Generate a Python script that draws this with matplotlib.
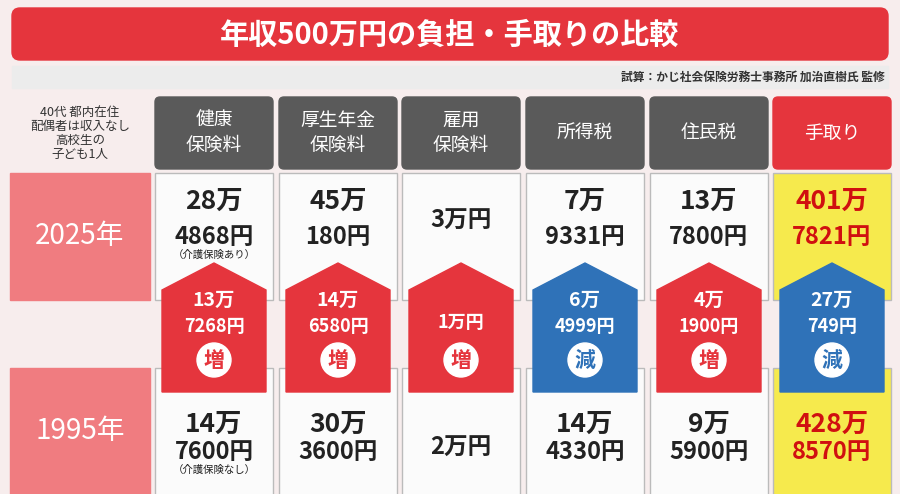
import matplotlib.pyplot as plt
from matplotlib.patches import FancyBboxPatch, Rectangle, Polygon, Circle

plt.rcParams['font.family'] = 'Noto Sans CJK JP'

# データ
columns = ['健康\n保険料', '厚生年金\n保険料', '雇用\n保険料', '所得税', '住民税', '手取り']
man_2025 = [28, 45, 3, 7, 13, 401]
yen_2025 = [4868, 180, None, 9331, 7800, 7821]
man_1995 = [14, 30, 2, 14, 9, 428]
yen_1995 = [7600, 3600, None, 4330, 5900, 8570]
diff_man = [13, 14, 1, 6, 4, 27]
diff_yen = [7268, 6580, None, 4999, 1900, 749]
diff_sign = ['増', '増', '増', '減', '増', '減']
note_2025 = '（介護保険あり）'
note_1995 = '（介護保険なし）'
years = ['2025年', '1995年']

RED = '#e5353d'
BLUE = '#2f72b8'
GRAY = '#5a5a5a'
YEL = '#f6ea4d'
PINK = '#f07c80'

fig = plt.figure(figsize=(9, 4.94), dpi=100)
ax = fig.add_axes([0, 0, 1, 1])
ax.set_xlim(0, 900)
ax.set_ylim(494, 0)
ax.axis('off')
ax.add_patch(Rectangle((0, 0), 900, 494, color='#f7eded'))

# タイトル
ax.add_patch(FancyBboxPatch((12, 8), 876, 52, boxstyle='round,pad=0,rounding_size=8', color=RED))
ax.text(450, 35, '年収500万円の負担・手取りの比較', color='white', fontsize=21, fontweight='bold',
        ha='center', va='center')
ax.add_patch(Rectangle((12, 66), 876, 22, color='#ececec'))
ax.text(885, 77, '試算：かじ社会保険労務士事務所 加治直樹氏 監修', fontsize=8.5, fontweight='bold',
        ha='right', va='center', color='#333')

ax.text(80, 133, '40代 都内在住\n配偶者は収入なし\n高校生の\n子ども1人', fontsize=9, ha='center',
        va='center', color='#333', linespacing=1.1)

xs = [155, 279, 402, 526, 650, 773]
w = 118
for i, c in enumerate(columns):
    col = RED if i == 5 else GRAY
    ax.add_patch(FancyBboxPatch((xs[i], 97), w, 72, boxstyle='round,pad=0,rounding_size=5', color=col))
    ax.text(xs[i] + w / 2, 133, c, color='white', fontsize=13.5, ha='center', va='center',
            linespacing=1.3)

# (行の上端, 万, 円, 注記, 文字のずらし)
rows = [(173, man_2025, yen_2025, note_2025, 0), (368, man_1995, yen_1995, note_1995, 12)]
for r, (y0, man, yen, note, off) in enumerate(rows):
    ax.add_patch(Rectangle((10, y0), 140, 127, color=PINK))
    ax.text(80, y0 + 63, years[r], color='white', fontsize=20, ha='center', va='center')
    for i in range(6):
        face = YEL if i == 5 else '#fbfbfb'
        ax.add_patch(Rectangle((xs[i], y0), w, 127, facecolor=face, edgecolor='#bbbbbb', lw=1))
        tc = '#d01010' if i == 5 else '#222'
        cx = xs[i] + w / 2
        if yen[i] is None:
            ax.text(cx, y0 + 48 + off + (20 if off else 0), f'{man[i]}万円', fontsize=17,
                    fontweight='bold', ha='center', va='center', color=tc)
        else:
            ax.text(cx, y0 + 28 + off + (16 if off else 0), f'{man[i]}万', fontsize=19,
                    fontweight='bold', ha='center', va='center', color=tc)
            ax.text(cx, y0 + 64 + off + (8 if off else 0), f'{yen[i]}円', fontsize=17,
                    fontweight='bold', ha='center', va='center', color=tc)
        if i == 0:
            ax.text(cx, y0 + 82 + off + (8 if off else 0), note, fontsize=7.5, ha='center',
                    va='center', color='#222')

# 増減の矢印
for i in range(6):
    cx = xs[i] + w / 2
    col = RED if diff_sign[i] == '増' else BLUE
    hw = 52
    ax.add_patch(Polygon([(cx - hw, 392), (cx - hw, 290), (cx, 263), (cx + hw, 290), (cx + hw, 392)],
                         closed=True, color=col, zorder=3))
    if diff_yen[i] is None:
        ax.text(cx, 322, f'{diff_man[i]}万円', fontsize=13, fontweight='bold', color='white',
                ha='center', va='center', zorder=4)
    else:
        ax.text(cx, 300, f'{diff_man[i]}万', fontsize=14, fontweight='bold', color='white',
                ha='center', va='center', zorder=4)
        ax.text(cx, 326, f'{diff_yen[i]}円', fontsize=13, fontweight='bold', color='white',
                ha='center', va='center', zorder=4)
    ax.add_patch(Circle((cx, 360), 17, color='white', zorder=4))
    ax.text(cx, 360, diff_sign[i], fontsize=15, fontweight='bold', color=col,
            ha='center', va='center', zorder=5)

fig.savefig('out.png', dpi=100)
